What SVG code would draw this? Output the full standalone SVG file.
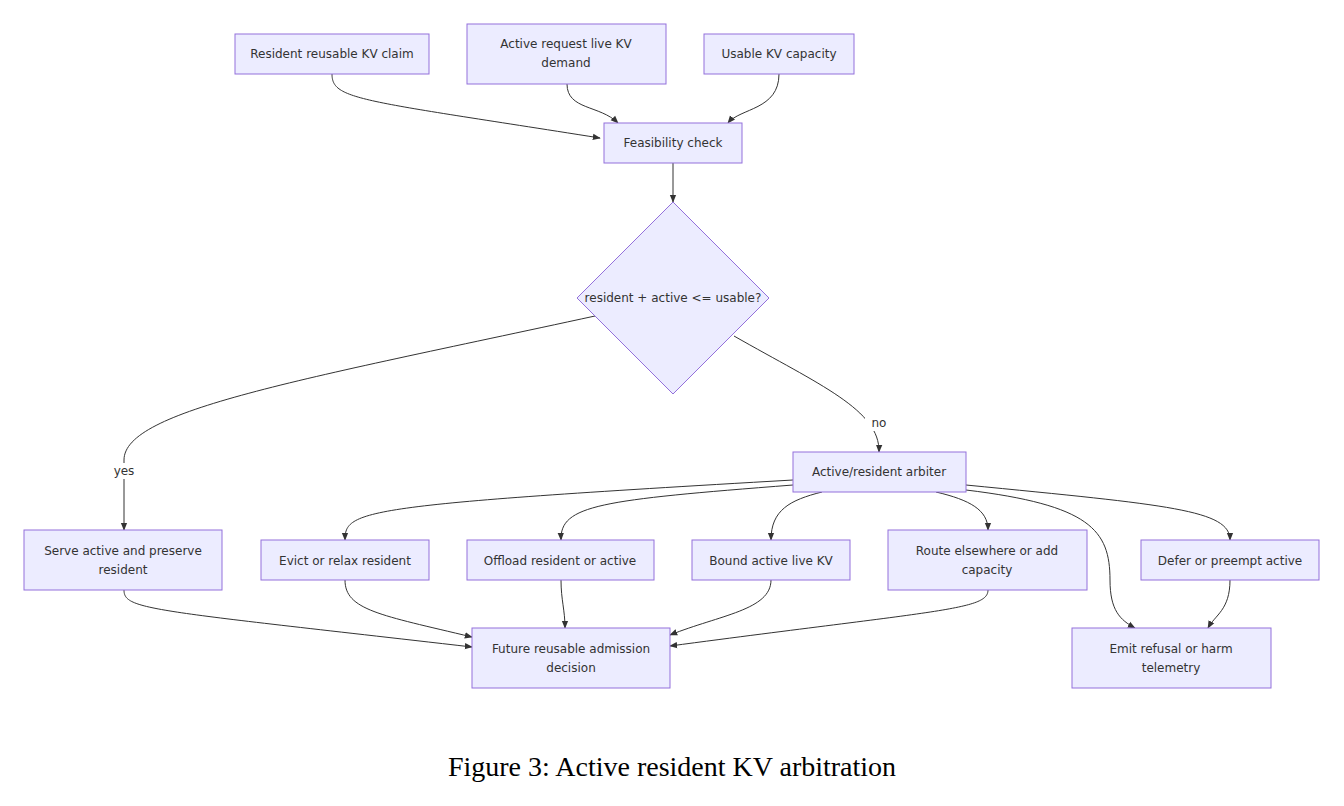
<svg xmlns="http://www.w3.org/2000/svg" width="1344" height="806" viewBox="0 0 1344 806">
<style>
.n rect,.n polygon{fill:#ECECFF;stroke:#9370DB;stroke-width:1}
.n text,.lbl{font-family:"DejaVu Sans",sans-serif;font-size:12px;fill:#333;text-anchor:middle}
.e path{fill:none;stroke:#333;stroke-width:1;marker-end:url(#a)}
</style>
<defs><marker id="a" viewBox="0 0 10 10" refX="9" refY="5" markerWidth="8" markerHeight="8" orient="auto"><path d="M0,1L10,5L0,9z" fill="#333"/></marker></defs>
<rect width="1344" height="806" fill="#fff"/>
<g class="e">
<path d="M332,74C332,100 360,100 600,138"/>
<path d="M567,84C567,110 600,105 618,123"/>
<path d="M779,74C779,110 740,108 728,123"/>
<path d="M673,163V202"/>
<path d="M595,316C300,380 124,410 124,460V530"/>
<path d="M734,336C820,385 880,410 879,452"/>
<path d="M793,480C360,505 345,510 345,540"/>
<path d="M793,485C600,500 560,505 561,540"/>
<path d="M822,492C790,500 771,510 771,540"/>
<path d="M936,492C970,500 988,510 988,530"/>
<path d="M966,485C1170,505 1230,510 1230,540"/>
<path d="M966,490C1090,505 1110,530 1110,580C1110,610 1120,620 1135,628"/>
<path d="M124,590C124,610 150,610 472,647"/>
<path d="M345,580C345,610 380,615 472,637"/>
<path d="M561,580C561,600 565,610 565,628"/>
<path d="M771,580C771,610 720,615 670,635"/>
<path d="M988,590C988,610 940,610 670,646"/>
<path d="M1230,580C1230,610 1215,615 1208,628"/>
</g>
<rect x="865" y="415" width="28" height="16" fill="#fff"/><text class="lbl" x="879" y="427">no</text>
<rect x="110" y="463" width="28" height="16" fill="#fff"/><text class="lbl" x="124" y="475">yes</text>
<g class="n" id="n1"><rect x="235" y="34" width="194" height="40"/><text x="332" y="58">Resident reusable KV claim</text></g>
<g class="n" id="n2"><rect x="467" y="24" width="199" height="60"/><text x="566" y="48">Active request live KV</text><text x="566" y="67">demand</text></g>
<g class="n" id="n3"><rect x="704" y="34" width="150" height="40"/><text x="779" y="58">Usable KV capacity</text></g>
<g class="n" id="n4"><rect x="604" y="123" width="138" height="40"/><text x="673" y="147">Feasibility check</text></g>
<g class="n" id="n5"><polygon points="673,202 769,298 673,394 577,298"/><text x="673" y="302">resident + active &lt;= usable?</text></g>
<g class="n" id="n6"><rect x="793" y="452" width="173" height="40"/><text x="879" y="476">Active/resident arbiter</text></g>
<g class="n" id="n7"><rect x="24" y="530" width="198" height="60"/><text x="123" y="555">Serve active and preserve</text><text x="123" y="574">resident</text></g>
<g class="n" id="n8"><rect x="261" y="540" width="168" height="40"/><text x="345" y="565">Evict or relax resident</text></g>
<g class="n" id="n9"><rect x="467" y="540" width="187" height="40"/><text x="560" y="565">Offload resident or active</text></g>
<g class="n" id="n10"><rect x="692" y="540" width="158" height="40"/><text x="771" y="565">Bound active live KV</text></g>
<g class="n" id="n11"><rect x="888" y="530" width="199" height="60"/><text x="987" y="555">Route elsewhere or add</text><text x="987" y="574">capacity</text></g>
<g class="n" id="n12"><rect x="1141" y="540" width="178" height="40"/><text x="1230" y="565">Defer or preempt active</text></g>
<g class="n" id="n13"><rect x="472" y="628" width="198" height="60"/><text x="571" y="653">Future reusable admission</text><text x="571" y="672">decision</text></g>
<g class="n" id="n14"><rect x="1072" y="628" width="199" height="60"/><text x="1171" y="653">Emit refusal or harm</text><text x="1171" y="672">telemetry</text></g>
<text x="672" y="776" style="font-family:'Liberation Serif',serif;font-size:28px;fill:#000;text-anchor:middle">Figure 3: Active resident KV arbitration</text>
</svg>
